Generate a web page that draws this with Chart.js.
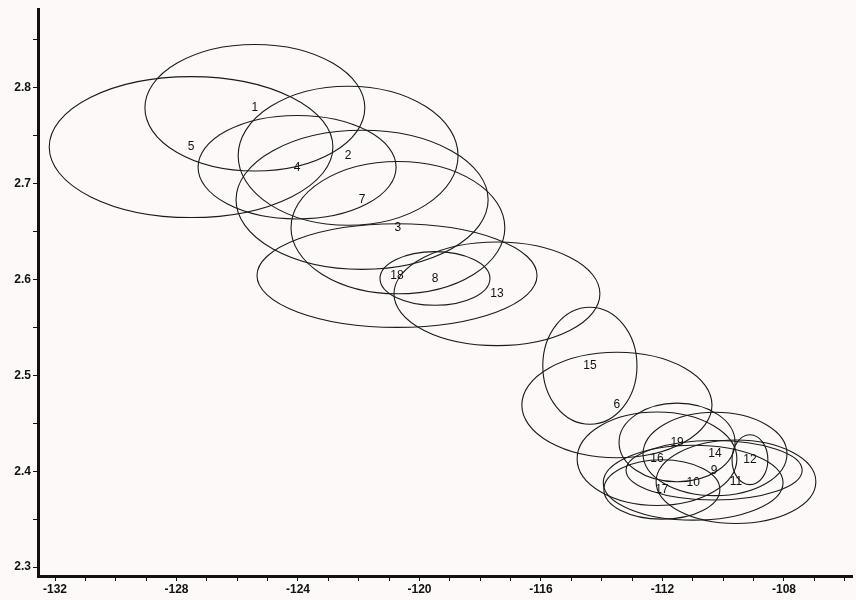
<!DOCTYPE html>
<html>
<head>
<meta charset="utf-8">
<script src="https://cdn.jsdelivr.net/npm/chart.js@4/dist/chart.umd.min.js"></script>
<style>
	html, body { margin: 0; padding: 0; background: #fcf9f8; }
	#wrap { width: 856px; height: 600px; }
</style>
</head>
<body>
<div id="wrap"><canvas id="chart"></canvas></div>
<script>
// data (ellipse centre + half axes, in axis units)
var names = ["1","2","3","4","5","6","7","8","9","10","11","12","13","14","15","16","17","18","19"];
var centerX = [-125.42, -122.35, -120.71, -124.03, -127.52, -113.50, -121.89, -119.49, -110.30, -110.99,
	-109.58, -109.12, -117.45, -110.27, -114.39, -112.18, -112.02, -120.74, -111.52];
var centerY = [2.779, 2.729, 2.654, 2.717, 2.738, 2.469, 2.683, 2.601, 2.401, 2.388,
	2.389, 2.412, 2.585, 2.418, 2.510, 2.413, 2.381, 2.604, 2.430];
var halfX = [3.62, 3.62, 3.52, 3.26, 4.67, 3.13, 4.15, 1.81, 2.90, 2.96,
	2.63, 0.59, 3.39, 2.37, 1.55, 2.63, 1.91, 4.61, 1.91];
var halfY = [0.066, 0.0725, 0.069, 0.054, 0.0735, 0.055, 0.0725, 0.028, 0.031, 0.039,
	0.0435, 0.026, 0.054, 0.0435, 0.061, 0.0487, 0.031, 0.054, 0.041];

// ticks
var xTicks = [];
for (var t = -132; t <= -106; t++) xTicks.push(t);
var yTicks = [2.3, 2.35, 2.4, 2.45, 2.5, 2.55, 2.6, 2.65, 2.7, 2.75, 2.8, 2.85];

var points = [];
for (var i = 0; i < names.length; i++) {
	points.push({ x: centerX[i], y: centerY[i] });
}

// draws the ellipses and their numbers
var ellipsePlugin = {
	id: "ellipses",
	afterDatasetsDraw: function(chart) {
		var c = chart.ctx;
		var sx = chart.scales.x;
		var sy = chart.scales.y;
		c.save();
		c.strokeStyle = "#1a1a1a";
		c.lineWidth = 1.1;
		for (var i = 0; i < names.length; i++) {
			var px = sx.getPixelForValue(centerX[i]);
			var py = sy.getPixelForValue(centerY[i]);
			var rx = Math.abs(sx.getPixelForValue(centerX[i] + halfX[i]) - px);
			var ry = Math.abs(py - sy.getPixelForValue(centerY[i] + halfY[i]));
			c.beginPath();
			c.ellipse(px, py, rx, ry, 0, 0, Math.PI * 2);
			c.stroke();
		}
		c.fillStyle = "#111";
		c.font = "12px 'Liberation Sans', Arial, sans-serif";
		c.textAlign = "center";
		c.textBaseline = "middle";
		for (var j = 0; j < names.length; j++) {
			c.fillText(names[j], sx.getPixelForValue(centerX[j]), sy.getPixelForValue(centerY[j]));
		}
		c.restore();
	}
};

var tickFont = { family: "'Liberation Sans', Arial, sans-serif", size: 12, weight: "bold" };

new Chart(document.getElementById("chart"), {
	type: "scatter",
	data: {
		datasets: [{
			data: points,
			pointRadius: 0,
			pointHoverRadius: 0
		}]
	},
	options: {
		responsive: true,
		maintainAspectRatio: false,
		animation: false,
		events: [],
		layout: { padding: { top: 5, right: 4, left: 0, bottom: 0 } },
		plugins: {
			legend: { display: false },
			tooltip: { enabled: false }
		},
		scales: {
			x: {
				type: "linear",
				min: -132.56,
				max: -105.76,
				afterBuildTicks: function(scale) {
					scale.ticks = xTicks.map(function(v) { return { value: v }; });
				},
				afterFit: function(scale) { scale.height = 24; },
				border: { display: true, width: 3, color: "#111" },
				grid: { drawOnChartArea: false, drawTicks: true, tickLength: 5, color: "#111", tickWidth: 1 },
				ticks: {
					autoSkip: false,
					maxRotation: 0,
					padding: 1,
					color: "#111",
					font: tickFont,
					callback: function(v) { return (Math.round(v) % 4 === 0) ? String(Math.round(v)) : ""; }
				}
			},
			y: {
				type: "linear",
				min: 2.2907,
				max: 2.8818,
				afterBuildTicks: function(scale) {
					scale.ticks = yTicks.map(function(v) { return { value: v }; });
				},
				afterFit: function(scale) { scale.width = 38; },
				border: { display: true, width: 3, color: "#111" },
				grid: { drawOnChartArea: false, drawTicks: true, tickLength: 5, color: "#111", tickWidth: 1 },
				ticks: {
					autoSkip: false,
					padding: 2,
					color: "#111",
					font: tickFont,
					callback: function(v) {
						var k = Math.round(v * 100);
						return (k % 10 === 0 && v < 2.82) ? (k / 100).toFixed(1) : "";
					}
				}
			}
		}
	},
	plugins: [ellipsePlugin]
});
</script>
</body>
</html>
